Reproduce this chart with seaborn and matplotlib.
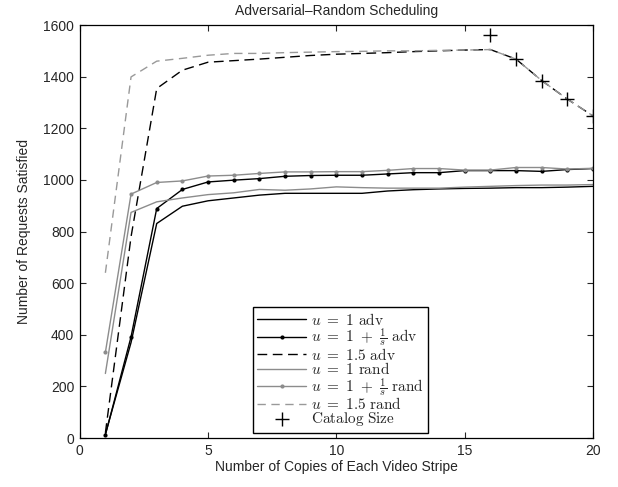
import matplotlib
matplotlib.use("Agg")
import matplotlib.pyplot as plt
import seaborn as sns

# copies of each video stripe
copies = list(range(1, 21))

# adversarial scheduling
adv_u1 = [15, 370, 831, 898, 919, 930, 941, 948, 948, 948, 948, 957, 962, 965, 967, 968, 970, 970, 972, 975]
adv_u1s = [12, 392, 889, 963, 992, 999, 1005, 1014, 1017, 1018, 1018, 1023, 1028, 1028, 1036, 1036, 1036, 1033, 1040, 1044]
adv_u15 = [20, 780, 1354, 1425, 1456, 1462, 1468, 1475, 1482, 1487, 1490, 1493, 1497, 1500, 1503, 1505, 1468, 1385, 1313, 1248]

# random scheduling
rand_u1 = [250, 874, 915, 930, 943, 950, 963, 960, 965, 973, 970, 968, 968, 968, 972, 975, 978, 980, 980, 982]
rand_u1s = [332, 945, 990, 996, 1015, 1018, 1025, 1031, 1031, 1032, 1032, 1037, 1044, 1044, 1038, 1038, 1048, 1048, 1042, 1045]
rand_u15 = [640, 1399, 1460, 1471, 1483, 1490, 1490, 1493, 1495, 1497, 1498, 1500, 1500, 1502, 1503, 1505, 1468, 1385, 1313, 1248]

# catalog size
cat_x = [16, 17, 18, 19, 20]
cat_y = [1560, 1468, 1385, 1313, 1248]

sns.set_style("ticks")
plt.rcParams['font.family'] = ['Liberation Sans', 'DejaVu Sans']
plt.rcParams['mathtext.fontset'] = 'cm'
plt.rcParams['xtick.direction'] = 'in'
plt.rcParams['ytick.direction'] = 'in'

fig = plt.figure(figsize=(6.18, 4.87), dpi=100)
ax = fig.add_axes([0.129, 0.1006, 0.8305, 0.848])

sns.lineplot(x=copies, y=adv_u1, color='black', lw=1,
             label=r'$u\ =\ 1\ \mathrm{adv}$', ax=ax)
sns.lineplot(x=copies, y=adv_u1s, color='black', lw=1, marker='o', markersize=3,
             markeredgewidth=0, label=r'$u\ =\ 1\ +\ \frac{1}{s}\ \mathrm{adv}$', ax=ax)
sns.lineplot(x=copies, y=adv_u15, color='black', lw=1, dashes=(7, 4),
             label=r'$u\ =\ 1.5\ \mathrm{adv}$', ax=ax)
sns.lineplot(x=copies, y=rand_u1, color='0.55', lw=1,
             label=r'$u\ =\ 1\ \mathrm{rand}$', ax=ax)
sns.lineplot(x=copies, y=rand_u1s, color='0.55', lw=1, marker='o', markersize=3,
             markeredgewidth=0, label=r'$u\ =\ 1\ +\ \frac{1}{s}\ \mathrm{rand}$', ax=ax)
sns.lineplot(x=copies, y=rand_u15, color='0.6', lw=1, dashes=(6, 4),
             label=r'$u\ =\ 1.5\ \mathrm{rand}$', ax=ax)
sns.scatterplot(x=cat_x, y=cat_y, marker='+', color='black', s=90, linewidth=1,
                label=r'$\mathrm{Catalog\ Size}$', ax=ax, zorder=5)

ax.set_xlim(0, 20)
ax.set_ylim(0, 1600)
ax.set_xticks([0, 5, 10, 15, 20])
ax.set_yticks(range(0, 1601, 200))
ax.tick_params(top=True, right=True, labelsize=10, length=4, width=0.8, pad=4)
for s in ax.spines.values():
    s.set_visible(True)
    s.set_linewidth(0.9)
    s.set_color('black')

ax.set_xlabel('Number of Copies of Each Video Stripe', fontsize=10, labelpad=2)
ax.set_ylabel('Number of Requests Satisfied', fontsize=10, labelpad=9)
ax.set_title('Adversarial\u2013Random Scheduling', fontsize=10, pad=7)

leg = ax.legend(loc='lower center', bbox_to_anchor=(0.508, 0.012), fontsize=11,
                handlelength=3.2, labelspacing=-0.1, borderpad=0.3,
                handletextpad=0.3, fancybox=False, framealpha=1, borderaxespad=0)
leg.get_frame().set_edgecolor('black')
leg.get_frame().set_linewidth(1.0)

fig.savefig('out.png', dpi=100)
